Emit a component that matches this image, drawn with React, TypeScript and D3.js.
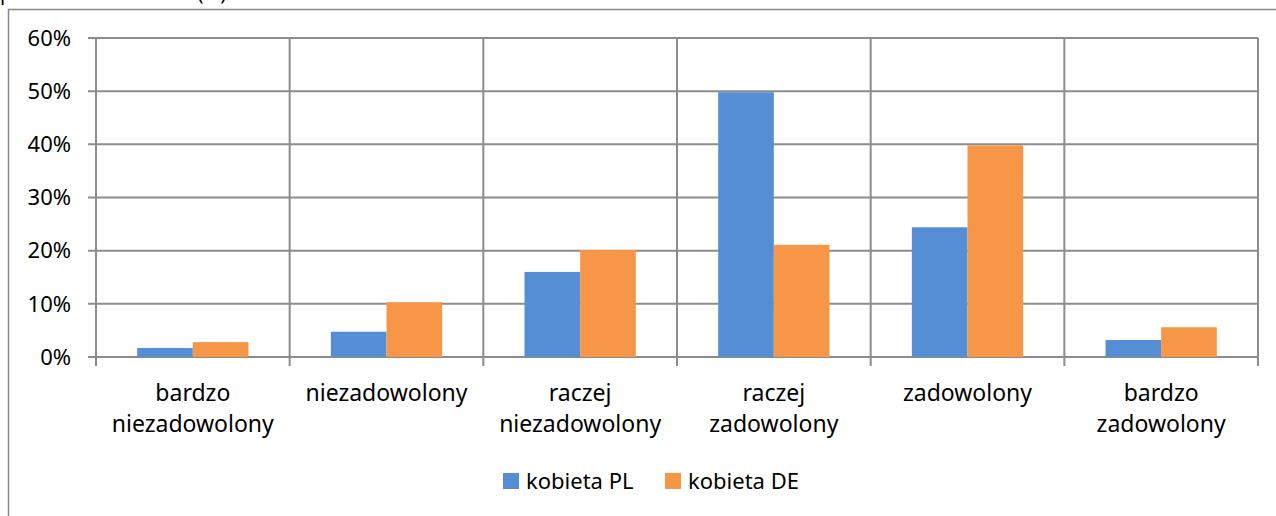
import * as d3 from 'd3';
import React, { useRef, useEffect } from 'react';

const categories = [
  ['bardzo', 'niezadowolony'],
  ['niezadowolony'],
  ['raczej', 'niezadowolony'],
  ['raczej', 'zadowolony'],
  ['zadowolony'],
  ['bardzo', 'zadowolony'],
];
const seriesNames = ['kobieta PL', 'kobieta DE'];
const kobietaPL = [1.7, 4.75, 16.0, 49.8, 24.4, 3.2];
const kobietaDE = [2.8, 10.3, 20.1, 21.1, 39.8, 5.6];
const yTicks = [0, 10, 20, 30, 40, 50, 60];
const colors = ['#558ED5', '#F79646'];

function App() {
  const ref = useRef<SVGSVGElement>(null);
  const width = 1276, height = 516;
  const margin = { top: 38, left: 96, right: 18, bottom: 159 };
  const font = '"Noto Sans", "Open Sans", sans-serif';

  useEffect(() => {
    const svg = d3.select(ref.current);
    svg.selectAll('*').remove();

    // outer frame
    svg.append('rect')
      .attr('x', 8.5).attr('y', 9.5)
      .attr('width', 1290).attr('height', 520)
      .attr('fill', 'none').attr('stroke', '#888').attr('stroke-width', 1.5);

    // cut off title at the top
    svg.append('text')
      .attr('x', 0).attr('y', 0)
      .style('font-family', font).style('font-size', '20px')
      .text('poziom zadowolenia (%)');

    const keys = categories.map((c, i) => String(i));
    const x0 = d3.scaleBand().domain(keys).range([margin.left, width - margin.right]);
    const x1 = d3.scaleBand().domain(seriesNames)
      .range([0, x0.bandwidth()]).paddingOuter(0.74).paddingInner(0);
    const y = d3.scaleLinear().domain([0, 60]).range([height - margin.bottom, margin.top]);

    const g = svg.append('g');

    // horizontal grid
    g.selectAll('.hgrid').data(yTicks).enter().append('line')
      .attr('x1', margin.left - 8).attr('x2', width - margin.right)
      .attr('y1', d => y(d)).attr('y2', d => y(d))
      .attr('stroke', '#8c8c8c').attr('stroke-width', 2);

    // vertical grid
    const vx = keys.map(k => x0(k)!).concat([width - margin.right]);
    g.selectAll('.vgrid').data(vx).enter().append('line')
      .attr('x1', d => d).attr('x2', d => d)
      .attr('y1', margin.top).attr('y2', y(0) + 9)
      .attr('stroke', '#8c8c8c').attr('stroke-width', 2);

    // bars
    const data = [kobietaPL, kobietaDE];
    const grp = g.selectAll('.cat').data(keys).enter().append('g')
      .attr('transform', k => `translate(${x0(k)},0)`);
    grp.selectAll('rect')
      .data((k) => seriesNames.map((s, si) => ({ s, si, v: data[si][+k] })))
      .enter().append('rect')
      .attr('x', d => x1(d.s)!)
      .attr('y', d => y(d.v))
      .attr('width', x1.bandwidth())
      .attr('height', d => y(0) - y(d.v))
      .attr('fill', d => colors[d.si]);

    // y labels
    g.selectAll('.ylab').data(yTicks).enter().append('text')
      .attr('x', margin.left - 25).attr('y', d => y(d))
      .attr('dy', '0.35em').attr('text-anchor', 'end')
      .style('font-family', font).style('font-size', '22px').attr('fill', '#000')
      .text(d => d + '%');

    // x labels
    const xl = g.selectAll('.xlab').data(keys).enter().append('text')
      .attr('text-anchor', 'middle')
      .style('font-family', font).style('font-size', '23px').attr('fill', '#000');
    xl.selectAll('tspan').data(k => categories[+k].map(line => ({ k, line })))
      .enter().append('tspan')
      .attr('x', d => x0(d.k)! + x0.bandwidth() / 2)
      .attr('y', (d, i) => 401 + i * 31)
      .text(d => d.line);

    // legend
    const legX = [503, 665];
    seriesNames.forEach((s, i) => {
      svg.append('rect').attr('x', legX[i]).attr('y', 473)
        .attr('width', 16).attr('height', 16).attr('fill', colors[i]);
      svg.append('text').attr('x', legX[i] + 23).attr('y', 489)
        .style('font-family', font).style('font-size', '22px').text(s);
    });
  }, []);

  return (
    <svg ref={ref} width={width} height={height}
      style={{ position: 'absolute', left: 0, top: 0, background: '#fff' }} />
  );
}

export default App;
